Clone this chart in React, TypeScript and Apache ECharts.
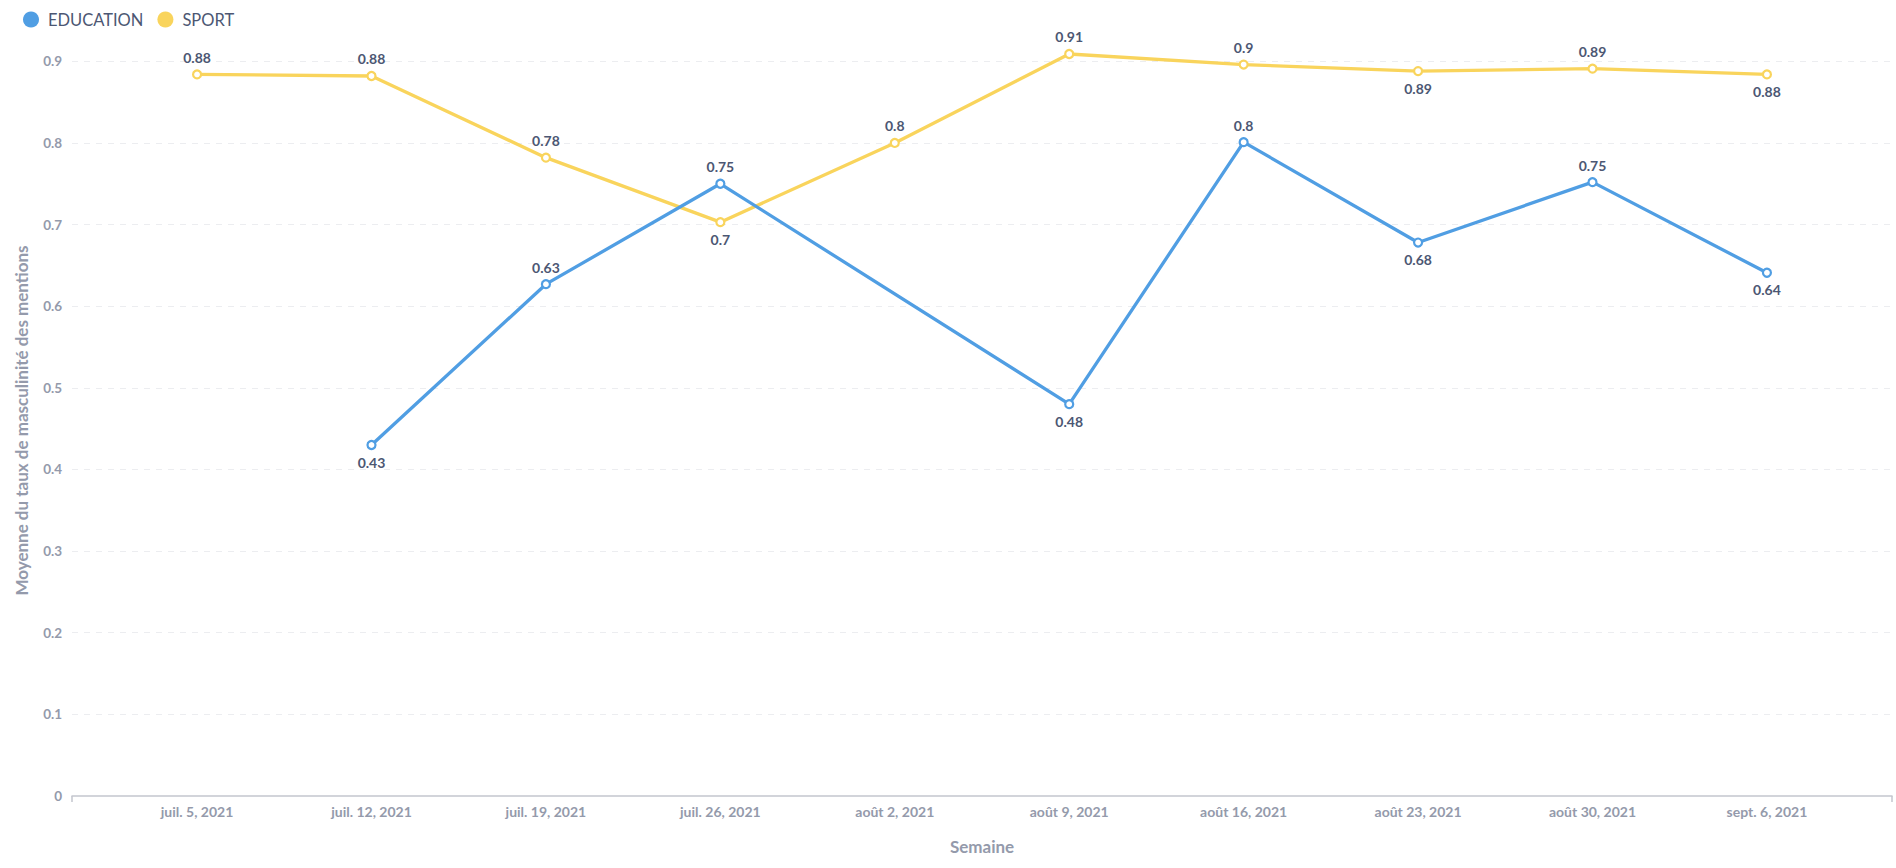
import React, { useEffect, useRef } from "react";
import * as echarts from "echarts";

const categories = [
  "juil. 5, 2021",
  "juil. 12, 2021",
  "juil. 19, 2021",
  "juil. 26, 2021",
  "août 2, 2021",
  "août 9, 2021",
  "août 16, 2021",
  "août 23, 2021",
  "août 30, 2021",
  "sept. 6, 2021",
];

const educationValues: (number | null)[] = [null, 0.43, 0.627, 0.75, null, 0.48, 0.801, 0.678, 0.752, 0.641];
const sportValues: number[] = [0.884, 0.882, 0.782, 0.703, 0.8, 0.909, 0.896, 0.888, 0.891, 0.884];

const educationLabelSide = ["top", "bottom", "top", "top", "top", "bottom", "top", "bottom", "top", "bottom"];
const sportLabelSide = ["top", "top", "top", "bottom", "top", "top", "top", "bottom", "top", "bottom"];

const yTicks = [0, 0.1, 0.2, 0.3, 0.4, 0.5, 0.6, 0.7, 0.8, 0.9];

const BLUE = "#509EE3";
const YELLOW = "#F9D45C";
const DARK = "#4C5773";
const GRAY = "#949AAB";
const FONT = "Lato, 'Noto Sans', sans-serif";

function fmt(v: number) {
  return String(Math.round(v * 100) / 100);
}

function buildData(values: (number | null)[], sides: string[]) {
  const out: any[] = [];
  values.forEach((v, i) => {
    if (v === null) return;
    out.push({ value: [i, v], label: { position: sides[i] } });
  });
  return out;
}

export default function App() {
  const ref = useRef<HTMLDivElement>(null);
  useEffect(() => {
    document.body.style.margin = "0";
    const chart = echarts.init(ref.current!, null, { renderer: "svg" });
    const labelStyle = {
      show: true,
      fontFamily: FONT,
      fontWeight: "bold" as const,
      fontSize: 14,
      color: DARK,
      distance: 5,
      formatter: (p: any) => fmt(p.value[1]),
    };
    chart.setOption({
      animation: false,
      textStyle: { fontFamily: FONT },
      legend: {
        left: 18,
        top: 6,
        icon: "circle",
        itemWidth: 16,
        itemHeight: 16,
        itemGap: 14,
        textStyle: { fontSize: 16.5, color: DARK, fontFamily: FONT, padding: [0, 0, 0, 4] },
        data: [
          { name: "EDUCATION", itemStyle: { color: BLUE, borderWidth: 0 } },
          { name: "SPORT", itemStyle: { color: YELLOW, borderWidth: 0 } },
        ],
      },
      grid: { left: 72, right: 4, top: 45, bottom: 72 },
      xAxis: [
        {
          type: "value",
          min: -0.717,
          max: 9.717,
          minInterval: 1,
          maxInterval: 1,
          name: "Semaine",
          nameLocation: "middle",
          nameGap: 42,
          nameTextStyle: { fontSize: 17, fontWeight: "bold", color: GRAY, fontFamily: FONT },
          axisLine: { show: true, lineStyle: { color: "#C3C6CE", width: 1.5 } },
          axisTick: { show: false },
          splitLine: { show: false },
          axisLabel: {
            showMinLabel: false,
            showMaxLabel: false,
            margin: 8,
            fontSize: 14,
            fontWeight: "bold",
            color: GRAY,
            fontFamily: FONT,
            formatter: (v: number) => (Number.isInteger(v) && categories[v] ? categories[v] : ""),
          },
        },
        {
          type: "value",
          min: 0,
          max: 1,
          interval: 1,
          position: "bottom",
          axisLine: { show: false },
          axisTick: { show: true, length: 6, lineStyle: { color: "#C3C6CE", width: 1.5 } },
          axisLabel: { show: false },
          splitLine: { show: false },
        },
      ],
      yAxis: {
        type: "value",
        min: 0,
        max: 0.92,
        interval: 0.1,
        name: "Moyenne du taux de masculinité des mentions",
        nameLocation: "middle",
        nameGap: 42,
        nameTextStyle: { fontSize: 17, fontWeight: "bold", color: GRAY, fontFamily: FONT },
        axisLine: { show: false },
        axisTick: { show: false },
        axisLabel: {
          showMaxLabel: false,
          margin: 10,
          fontSize: 13.5,
          fontWeight: "bold",
          color: GRAY,
          fontFamily: FONT,
          formatter: (v: number) => {
            const t = yTicks.find((x) => Math.abs(x - v) < 1e-6);
            return t === undefined ? "" : String(t);
          },
        },
        splitLine: {
          show: true,
          showMinLine: false,
          showMaxLine: false,
          lineStyle: { color: "#ECEDF0", type: [6, 6], width: 1 },
        },
      },
      series: [
        {
          name: "EDUCATION",
          type: "line",
          xAxisIndex: 0,
          data: buildData(educationValues, educationLabelSide),
          color: BLUE,
          lineStyle: { width: 3.3, color: BLUE },
          symbol: "circle",
          symbolSize: 8,
          itemStyle: { color: "#ffffff", borderColor: BLUE, borderWidth: 2.2 },
          label: labelStyle,
          clip: false,
          z: 3,
        },
        {
          name: "SPORT",
          type: "line",
          xAxisIndex: 0,
          data: buildData(sportValues, sportLabelSide),
          color: YELLOW,
          lineStyle: { width: 3.3, color: YELLOW },
          symbol: "circle",
          symbolSize: 8,
          itemStyle: { color: "#ffffff", borderColor: YELLOW, borderWidth: 2.2 },
          label: labelStyle,
          clip: false,
          z: 2,
        },
      ],
    });
    return () => chart.dispose();
  }, []);
  return <div ref={ref} style={{ width: 1896, height: 868 }} />;
}
